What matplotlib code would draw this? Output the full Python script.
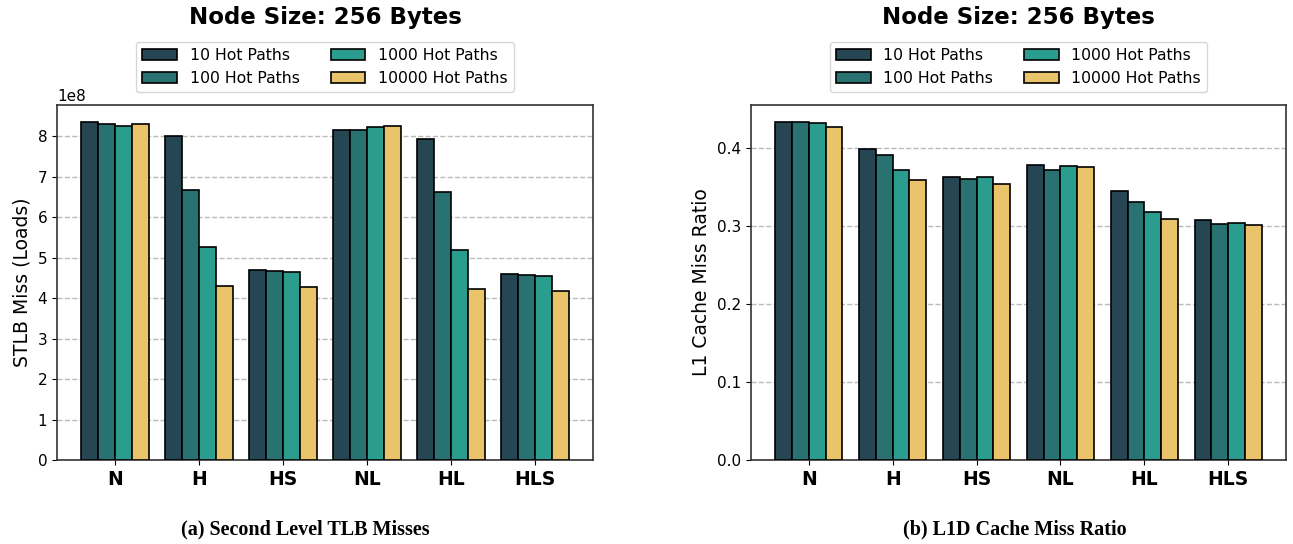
import matplotlib
matplotlib.use("Agg")
import matplotlib.pyplot as plt
import numpy as np

categories = ["N", "H", "HS", "NL", "HL", "HLS"]
series_labels = ["10 Hot Paths", "100 Hot Paths", "1000 Hot Paths", "10000 Hot Paths"]
colors = ["#264653", "#287271", "#2a9d8f", "#e9c46a"]

# STLB misses (x1e8)
stlb_10 = [8.36, 8.00, 4.70, 8.15, 7.93, 4.59]
stlb_100 = [8.32, 6.67, 4.68, 8.15, 6.63, 4.58]
stlb_1000 = [8.27, 5.27, 4.66, 8.24, 5.20, 4.55]
stlb_10000 = [8.31, 4.31, 4.29, 8.25, 4.23, 4.18]

# L1D miss ratio
l1_10 = [0.433, 0.398, 0.362, 0.378, 0.3445, 0.307]
l1_100 = [0.433, 0.391, 0.360, 0.371, 0.330, 0.302]
l1_1000 = [0.432, 0.371, 0.363, 0.376, 0.318, 0.304]
l1_10000 = [0.426, 0.358, 0.353, 0.3755, 0.309, 0.301]

stlb = [np.array(s) * 1e8 for s in (stlb_10, stlb_100, stlb_1000, stlb_10000)]
l1 = [l1_10, l1_100, l1_1000, l1_10000]

fig = plt.figure(figsize=(12.93, 5.44), dpi=100)
ax1 = fig.add_axes([57 / 1293, 84 / 544, 536 / 1293, 355 / 544])
ax2 = fig.add_axes([751 / 1293, 84 / 544, 535 / 1293, 355 / 544])

x = np.arange(len(categories))
w = 0.2

def draw(ax, data, ylabel):
    for i, (vals, lab, c) in enumerate(zip(data, series_labels, colors)):
        ax.bar(x + (i - 1.5) * w, vals, w, color=c, edgecolor="black",
               linewidth=1.2, label=lab, zorder=3)
    ax.set_xticks(x)
    ax.set_xticklabels(categories, fontsize=13.5, fontweight="bold")
    ax.tick_params(axis="y", labelsize=11)
    ax.set_ylabel(ylabel, fontsize=13.5)
    ax.grid(axis="y", linestyle="--", color="#bbbbbb", linewidth=1, zorder=0)
    ax.set_axisbelow(True)
    for s in ax.spines.values():
        s.set_linewidth(1.2)
        s.set_color("#333333")
    ax.set_title("Node Size: 256 Bytes", fontsize=16.5, fontweight="bold", pad=58)
    ax.legend(ncol=2, loc="lower center", bbox_to_anchor=(0.5, 1.0),
              fontsize=11.3, borderaxespad=0.8, columnspacing=2.0, handlelength=2.2)

draw(ax1, stlb, "STLB Miss (Loads)")
ax1.yaxis.get_offset_text().set_fontsize(11)
draw(ax2, l1, "L1 Cache Miss Ratio")

fig.text(305 / 1293, 1 - 529 / 544, "(a) Second Level TLB Misses", ha="center", va="center",
         fontsize=14.5, fontweight="bold", family="Liberation Serif")
fig.text(1015 / 1293, 1 - 529 / 544, "(b) L1D Cache Miss Ratio", ha="center", va="center",
         fontsize=14.5, fontweight="bold", family="Liberation Serif")

fig.savefig("out.png", dpi=100)
